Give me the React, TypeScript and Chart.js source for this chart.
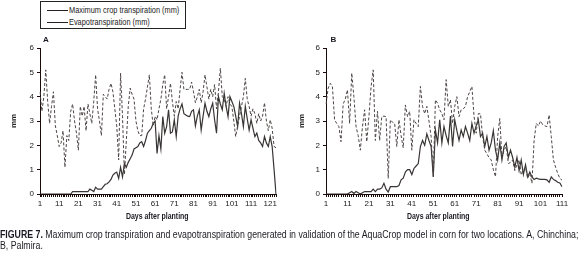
import React, { useEffect, useLayoutEffect, useRef, useState } from 'react';
import { Chart, registerables } from 'chart.js';

Chart.register(...registerables);

const NARROW = "'Liberation Sans Narrow', 'Arial Narrow', 'Liberation Sans', Arial, sans-serif";
const SANS = "'Liberation Sans', Arial, sans-serif";
const SQUEEZE = 0.82;

// Panel A (Chinchina) – 124 days after planting
const transA = [
  0, 0, 0, 0, 0, 0, 0, 0, 0, 0,
  0, 0, 0, 0, 0, 0, 0, 0.1, 0.1, 0.1,
  0.1, 0.1, 0.1, 0.1, 0.1, 0.1, 0.2, 0.15, 0.1, 0.28,
  0.2, 0.2, 0.2, 0.3, 0.4, 0.42, 0.5, 0.6, 0.78, 0.85,
  0.9, 0.64, 1.1, 0.7, 1.25, 1.1, 1.3, 1.45, 1.6, 1.85,
  1.9, 1.95, 2.1, 2.15, 1.95, 2.2, 2.5, 2.6, 2.7, 2.9,
  3.0, 1.67, 2.4, 1.85, 3.18, 2.5, 2.77, 3.46, 2.5, 2.55,
  3.05, 2.36, 3.2, 3.5, 3.7, 3.3, 3.25, 3.2, 3.18, 3.4,
  3.46, 2.8, 3.2, 3.46, 2.63, 3.2, 3.73, 3.4, 3.18, 3.5,
  3.73, 3.05, 2.5, 4.0, 3.7, 3.46, 4.14, 3.6, 3.18, 4.0,
  3.8, 3.6, 3.2, 2.77, 3.73, 3.3, 2.77, 3.6, 3.1, 2.63,
  3.05, 2.7, 2.36, 2.5, 2.2, 2.1, 1.95, 2.36, 2.1, 1.95,
  2.36, 1.95, 1.0, 0,
];
const evapA = [
  4.2, 3.4, 4.0, 5.1, 3.8, 2.9, 3.6, 4.2, 2.8, 2.4,
  1.95, 2.1, 2.6, 1.1, 2.4, 2.2, 3.4, 3.7, 3.0, 2.5,
  1.8, 3.6, 3.2, 3.6, 2.6, 3.7, 3.3, 2.9, 3.8, 4.9,
  3.5, 3.0, 2.4, 4.1, 4.0, 3.9, 4.3, 4.55, 4.2, 3.5,
  2.8, 1.4, 4.97, 3.2, 0.8, 2.2, 3.6, 4.35, 4.1, 3.9,
  3.0, 2.6, 2.4, 2.4, 3.5, 3.9, 4.4, 4.9, 3.5, 2.8,
  3.2, 3.05, 3.5, 3.9, 4.5, 4.9, 3.5, 4.0, 4.55, 3.8,
  3.2, 3.8, 3.5, 4.3, 5.0, 4.3, 4.3, 4.3, 4.3, 4.6,
  4.2, 3.75, 4.0, 4.3, 3.75, 4.2, 4.9, 4.4, 3.9, 4.3,
  4.0, 4.5, 3.5, 4.2, 5.17, 4.0, 3.9, 3.6, 4.0, 3.7,
  3.6, 3.0, 2.36, 2.8, 3.2, 3.6, 4.0, 4.75, 3.9, 3.6,
  3.2, 3.5, 3.3, 2.9, 3.3, 3.0, 3.2, 3.75, 3.0, 2.6,
  3.05, 2.7, 1.95, 1.9,
];

// Panel B (Palmira) – 111 days after planting
const transB = [
  0, 0, 0, 0, 0, 0, 0, 0, 0, 0,
  0, 0.05, 0.1, 0.02, 0.1, 0.05, 0, 0.05, 0.1, 0.1,
  0.1, 0.1, 0.2, 0.1, 0.2, 0.2, 0.25, 0.44, 0.2, 0.08,
  0.3, 0.3, 0.3, 0.3, 0.35, 0.58, 0.65, 0.9, 1.0, 1.0,
  0.8, 1.05, 1.15, 1.25, 1.95, 2.2, 2.0, 2.47, 2.2, 1.95,
  0.71, 2.63, 2.1, 3.05, 2.1, 2.77, 2.4, 2.1, 3.2, 1.95,
  3.05, 2.6, 2.2, 2.63, 2.36, 2.77, 2.5, 2.2, 2.9, 2.5,
  2.8, 3.05, 2.36, 2.5, 1.95, 2.36, 1.8, 2.1, 2.6, 1.8,
  1.4, 2.1, 1.4, 1.95, 2.1, 1.5, 1.8, 1.5, 1.1, 1.5,
  0.96, 1.4, 0.8, 1.2, 0.7, 0.9, 0.7, 0.6, 0.65, 0.62,
  0.6, 0.6, 0.6, 0.58, 0.48, 0.7, 0.6, 0.55, 0.48, 0.45,
  0.3,
];
const evapB = [
  3.7, 4.35, 4.55, 4.4, 3.05, 2.9, 2.77, 2.15, 3.7, 3.9,
  4.28, 2.9, 4.97, 4.0, 2.77, 2.4, 1.8, 2.77, 3.46, 2.15,
  3.18, 4.4, 5.1, 2.2, 3.4, 2.2, 3.18, 3.2, 3.18, 0.64,
  3.05, 2.95, 2.9, 1.95, 3.05, 2.4, 1.9, 3.66, 3.18, 3.4,
  1.8, 3.05, 2.9, 2.77, 4.42, 3.6, 3.3, 3.6, 3.0, 2.36,
  0.71, 3.87, 3.73, 3.46, 3.3, 3.05, 4.7, 3.6, 3.87, 2.9,
  3.6, 4.0, 3.18, 3.46, 3.5, 3.6, 4.0, 4.2, 4.42, 3.2,
  2.5, 3.3, 3.3, 2.36, 1.8, 1.65, 1.5, 1.4, 1.0, 0.71,
  2.36, 3.1, 1.5, 1.8, 1.95, 1.25, 1.3, 1.4, 0.96, 1.2,
  1.4, 0.78, 1.0, 1.1, 0.64, 0.85, 0.44, 2.2, 2.9, 2.8,
  3.0, 2.85, 2.8, 2.77, 3.25, 2.36, 1.4, 1.1, 0.85, 0.64,
  0.57,
];

const daysA = transA.map((_, i) => String(i + 1));
const daysB = transB.map((_, i) => String(i + 1));
const tickLabelsA = ['1', '11', '21', '31', '41', '51', '61', '71', '81', '91', '101', '111', '121'];
const tickLabelsB = ['1', '11', '21', '31', '41', '51', '61', '71', '81', '91', '101', '111'];
const yTicks = [0, 1, 2, 3, 4, 5, 6];

const AXIS = '#1a0a0a';

type PanelProps = {
  labels: string[];
  trans: number[];
  evap: number[];
  tickLabels: string[];
  left: number;
  yWidth: number;
  plotWidth: number;
  titlePad: number;
};

function Panel({ labels, trans, evap, tickLabels, left, yWidth, plotWidth, titlePad }: PanelProps) {
  const ref = useRef<HTMLCanvasElement>(null);
  const extraRight = 12;
  const width = yWidth + plotWidth + extraRight;
  const height = 195;
  useEffect(() => {
    const chart = new Chart(ref.current!, {
      type: 'line',
      data: {
        labels,
        datasets: [
          {
            label: 'Evapotranspiration (mm)',
            data: evap,
            borderColor: '#4d4545',
            borderWidth: 1,
            borderDash: [3, 2],
            pointRadius: 0,
            tension: 0,
          },
          {
            label: 'Maximum crop transpiration (mm)',
            data: trans,
            borderColor: '#3a3535',
            borderWidth: 1.2,
            pointRadius: 0,
            tension: 0,
          },
        ],
      },
      options: {
        animation: false,
        responsive: false,
        maintainAspectRatio: false,
        layout: { padding: { top: 18, left: 0, right: extraRight, bottom: 0 } },
        plugins: { legend: { display: false }, tooltip: { enabled: false } },
        scales: {
          x: {
            type: 'category',
            offset: false,
            grid: { drawOnChartArea: false, drawTicks: true, tickLength: 3, color: AXIS, lineWidth: 1 },
            border: { color: AXIS, width: 1 },
            ticks: {
              autoSkip: false,
              maxRotation: 0,
              minRotation: 0,
              padding: 2,
              color: '#222',
              font: { family: SANS, size: 8 },
              callback: (_v: any, i: number) => (tickLabels.includes(labels[i]) ? labels[i] : ''),
            },
            afterFit: (s: any) => {
              s.height = 31;
              s.paddingLeft = 0;
              s.paddingRight = 0;
            },
          },
          y: {
            min: 0,
            max: 6,
            afterBuildTicks: (s: any) => {
              s.ticks = yTicks.map((v) => ({ value: v }));
            },
            grid: { drawOnChartArea: false, drawTicks: true, tickLength: 3, color: AXIS, lineWidth: 1 },
            border: { color: AXIS, width: 1 },
            ticks: { padding: 3, color: '#222', font: { family: SANS, size: 8 } },
            title: {
              display: true,
              text: 'mm',
              color: '#222',
              font: { family: NARROW, size: 8, weight: 'bold' },
              padding: { top: titlePad, bottom: 0 },
            },
            afterFit: (s: any) => {
              s.width = yWidth;
              s.paddingTop = 0;
              s.paddingBottom = 0;
            },
          },
        },
      },
    } as any);
    return () => chart.destroy();
  }, []);
  return (
    <canvas
      ref={ref}
      width={width}
      height={height}
      style={{ position: 'absolute', left, top: 30, width, height }}
    />
  );
}

const textBase: React.CSSProperties = {
  position: 'absolute',
  fontFamily: NARROW,
  color: '#1a1a22',
  whiteSpace: 'nowrap',
};

const squeezeLeft: React.CSSProperties = {
  display: 'inline-block',
  transform: `scaleX(${SQUEEZE})`,
  transformOrigin: 'left top',
};
const squeezeCenter: React.CSSProperties = {
  display: 'inline-block',
  transform: `scaleX(${SQUEEZE})`,
  transformOrigin: 'center top',
};

function Caption() {
  const lineRef = useRef<HTMLSpanElement>(null);
  const [scale, setScale] = useState(SQUEEZE);
  useLayoutEffect(() => {
    const w = lineRef.current ? lineRef.current.offsetWidth : 0;
    if (w > 0) setScale(578 / w);
  }, []);
  const common: React.CSSProperties = {
    ...textBase,
    left: 0,
    fontSize: 10,
    lineHeight: '11px',
  };
  return (
    <>
      <div style={{ ...common, top: 229 }}>
        <span
          ref={lineRef}
          style={{ display: 'inline-block', transform: `scaleX(${scale})`, transformOrigin: 'left top' }}
        >
          <b>FIGURE 7.</b> Maximum crop transpiration and evapotranspiration generated in validation of the AquaCrop model in corn for two locations. A, Chinchina;
        </span>
      </div>
      <div style={{ ...common, top: 240 }}>
        <span style={{ display: 'inline-block', transform: `scaleX(${scale})`, transformOrigin: 'left top' }}>B, Palmira.</span>
      </div>
    </>
  );
}

export default function App() {
  return (
    <div style={{ position: 'absolute', left: 0, top: 0, width: 579, height: 254, background: '#fff', overflow: 'hidden' }}>
      <Panel labels={daysA} trans={transA} evap={evapA} tickLabels={tickLabelsA} left={0} yWidth={40} plotWidth={236} titlePad={9} />
      <Panel labels={daysB} trans={transB} evap={evapB} tickLabels={tickLabelsB} left={289} yWidth={37} plotWidth={236} titlePad={8} />

      {/* legend */}
      <div style={{ position: 'absolute', left: 40, top: 1, width: 146, height: 28, border: '1px solid #222', boxSizing: 'border-box' }}>
        <div style={{ position: 'absolute', left: 6, top: 8, width: 21, borderTop: '1px solid #2a2020' }} />
        <div style={{ ...textBase, left: 28, top: 3, fontSize: 9, lineHeight: '11px' }}>
          <span style={squeezeLeft}>Maximum crop transpiration (mm)</span>
        </div>
        <div style={{ position: 'absolute', left: 6, top: 19.5, width: 21, borderTop: '1px solid #2a2020' }} />
        <div style={{ ...textBase, left: 28, top: 14.5, fontSize: 9, lineHeight: '11px' }}>
          <span style={squeezeLeft}>Evapotranspiration (mm)</span>
        </div>
      </div>

      {/* panel letters */}
      <div style={{ ...textBase, fontFamily: SANS, left: 43, top: 36, fontSize: 8, lineHeight: '8px', fontWeight: 'bold' }}>A</div>
      <div style={{ ...textBase, fontFamily: SANS, left: 330.5, top: 36, fontSize: 8, lineHeight: '8px', fontWeight: 'bold' }}>B</div>

      {/* x-axis titles */}
      <div style={{ ...textBase, left: 107.5, width: 100, textAlign: 'center', top: 211, fontSize: 8.5, lineHeight: '10px', fontWeight: 'bold' }}>
        <span style={squeezeCenter}>Days after planting</span>
      </div>
      <div style={{ ...textBase, left: 388, width: 100, textAlign: 'center', top: 211, fontSize: 8.5, lineHeight: '10px', fontWeight: 'bold' }}>
        <span style={squeezeCenter}>Days after planting</span>
      </div>

      <Caption />
    </div>
  );
}
